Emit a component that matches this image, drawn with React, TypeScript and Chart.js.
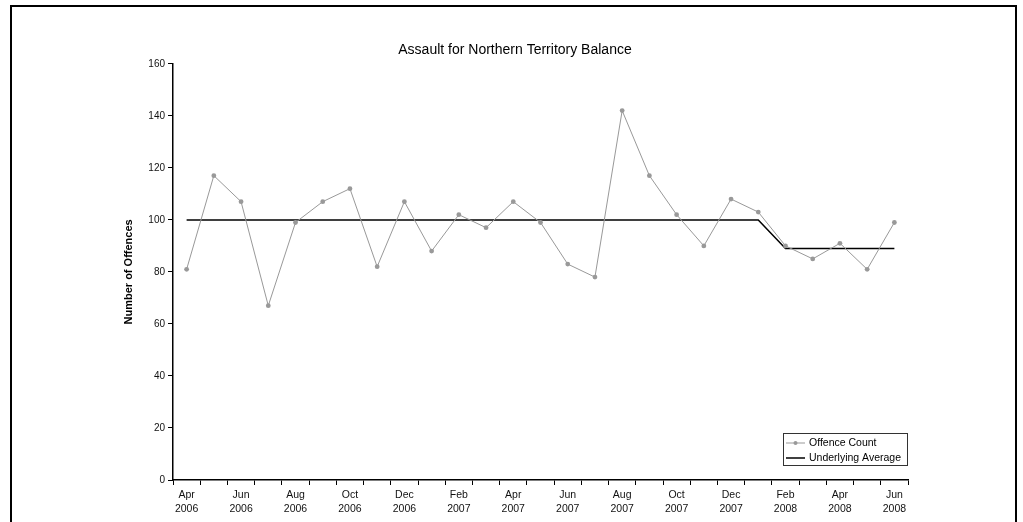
import React, { useEffect, useRef } from "react";
import { Chart, registerables } from "chart.js";

Chart.register(...registerables);

const months = [
  "Apr 2006", "May 2006", "Jun 2006", "Jul 2006", "Aug 2006", "Sep 2006", "Oct 2006", "Nov 2006", "Dec 2006",
  "Jan 2007", "Feb 2007", "Mar 2007", "Apr 2007", "May 2007", "Jun 2007", "Jul 2007", "Aug 2007", "Sep 2007",
  "Oct 2007", "Nov 2007", "Dec 2007", "Jan 2008", "Feb 2008", "Mar 2008", "Apr 2008", "May 2008", "Jun 2008",
];
const offenceCount = [
  81, 117, 107, 67, 99, 107, 112, 82, 107,
  88, 102, 97, 107, 99, 83, 78, 142, 117,
  102, 90, 108, 103, 90, 85, 91, 81, 99,
];
const underlyingAverage = [
  100, 100, 100, 100, 100, 100, 100, 100, 100,
  100, 100, 100, 100, 100, 100, 100, 100, 100,
  100, 100, 100, 100, 89, 89, 89, 89, 89,
];
const yTicks = { min: 0, max: 160, step: 20 };
const titleText = "Assault for Northern Territory Balance";
const yTitle = "Number of Offences";

const FONT = "'Liberation Sans', Arial, sans-serif";

const framePlugin = {
  id: "frame",
  beforeDraw(chart: any) {
    const ctx = chart.ctx;
    ctx.save();
    ctx.fillStyle = "#fff";
    ctx.fillRect(0, 0, chart.width, chart.height);
    ctx.strokeStyle = "#000";
    ctx.lineWidth = 2;
    ctx.beginPath();
    ctx.moveTo(11, chart.height + 5);
    ctx.lineTo(11, 6);
    ctx.lineTo(1016, 6);
    ctx.lineTo(1016, chart.height + 5);
    ctx.stroke();
    ctx.restore();
  },
};

const legendPlugin = {
  id: "boxLegend",
  afterDraw(chart: any) {
    const ctx = chart.ctx;
    const area = chart.chartArea;
    const w = 125;
    const h = 33;
    const x = area.right - w;
    const y = area.bottom - 14 - h;
    ctx.save();
    ctx.fillStyle = "#fff";
    ctx.fillRect(x, y, w, h);
    ctx.strokeStyle = "#333";
    ctx.lineWidth = 1;
    ctx.strokeRect(x + 0.5, y + 0.5, w - 1, h - 1);
    ctx.font = "10.5px " + FONT;
    ctx.textBaseline = "middle";
    ctx.fillStyle = "#000";
    chart.data.datasets.forEach((ds: any, i: number) => {
      const cy = y + 10 + i * 15;
      ctx.strokeStyle = ds.borderColor;
      ctx.lineWidth = ds.borderWidth;
      ctx.beginPath();
      ctx.moveTo(x + 3, cy);
      ctx.lineTo(x + 22, cy);
      ctx.stroke();
      if (ds.pointRadius > 0) {
        ctx.fillStyle = ds.pointBackgroundColor;
        ctx.beginPath();
        ctx.arc(x + 12.5, cy, 2, 0, Math.PI * 2);
        ctx.fill();
      }
      ctx.fillStyle = "#000";
      ctx.fillText(ds.label, x + 26, cy);
    });
    ctx.restore();
  },
};

export default function App() {
  const ref = useRef<HTMLCanvasElement>(null);
  useEffect(() => {
    if (!ref.current) return;
    const chart = new Chart(ref.current, {
      type: "line",
      data: {
        labels: months,
        datasets: [
          {
            label: "Offence Count",
            data: offenceCount,
            borderColor: "#999999",
            backgroundColor: "#999999",
            pointBackgroundColor: "#999999",
            pointBorderColor: "#999999",
            borderWidth: 1,
            pointRadius: 2.4,
            pointBorderWidth: 0,
            tension: 0,
          },
          {
            label: "Underlying Average",
            data: underlyingAverage,
            borderColor: "#000000",
            backgroundColor: "#000000",
            pointBackgroundColor: "#000000",
            borderWidth: 1.5,
            pointRadius: 0,
            tension: 0,
          },
        ],
      },
      options: {
        responsive: false,
        animation: false,
        devicePixelRatio: 1,
        layout: { padding: { left: 122, right: 115, top: 0, bottom: 0 } },
        plugins: {
          legend: { display: false },
          tooltip: { enabled: false },
          title: {
            display: true,
            text: titleText,
            color: "#000",
            font: { family: FONT, size: 14, weight: "normal", lineHeight: 1.2 },
            padding: { top: 42, bottom: 5 },
          },
        },
        scales: {
          x: {
            type: "category",
            offset: true,
            grid: {
              offset: true,
              drawOnChartArea: false,
              drawTicks: true,
              tickLength: 5,
              color: "#000",
            },
            border: { color: "#000", width: 1.5 },
            ticks: {
              autoSkip: false,
              maxRotation: 0,
              minRotation: 0,
              padding: 3,
              color: "#111",
              font: { family: FONT, size: 10.5, lineHeight: 1.35 },
              callback: (_v: any, i: number) => (i % 2 === 0 ? months[i].split(" ") : ""),
            },
            afterFit: (s: any) => {
              s.height = 42;
            },
          },
          y: {
            min: yTicks.min,
            max: yTicks.max,
            grid: {
              drawOnChartArea: false,
              drawTicks: true,
              tickLength: 5,
              color: "#000",
            },
            border: { color: "#000", width: 1.5 },
            ticks: {
              stepSize: yTicks.step,
              padding: 3,
              color: "#111",
              font: { family: FONT, size: 10 },
            },
            title: {
              display: true,
              text: yTitle,
              color: "#000",
              font: { family: FONT, size: 11, weight: "bold", lineHeight: 1.2 },
              padding: { top: 0, bottom: 0 },
            },
            afterFit: (s: any) => {
              s.width = 51;
            },
          },
        },
      },
      plugins: [framePlugin, legendPlugin],
    } as any);
    return () => chart.destroy();
  }, []);
  return (
    <canvas
      ref={ref}
      width={1023}
      height={522}
      style={{ position: "fixed", left: 0, top: 0, width: 1023, height: 522, display: "block" }}
    />
  );
}
